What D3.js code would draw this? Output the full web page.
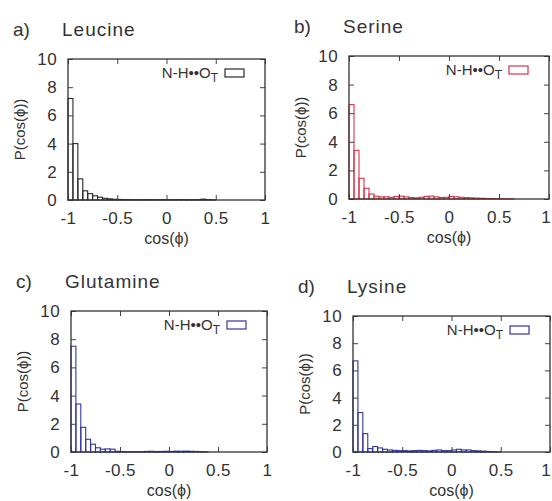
<html>
<head>
<style>
  body { margin: 0; background: #fff; }
  text { font-family: "Liberation Sans", Arial, sans-serif; fill: #333; }
</style>
</head>
<body>
<script src="https://d3js.org/d3.v7.min.js"></script>
<script>

    var binLefts = [-1.00, -0.95, -0.90, -0.85, -0.80, -0.75, -0.70, -0.65, -0.60, -0.55,
                    -0.50, -0.45, -0.40, -0.35, -0.30, -0.25, -0.20, -0.15, -0.10, -0.05,
                     0.00,  0.05,  0.10,  0.15,  0.20,  0.25,  0.30,  0.35,  0.40,  0.45,
                     0.50,  0.55,  0.60];
    var binWidth = 0.05;

    var leucine   = [7.2, 4.0, 1.5, 0.65, 0.45, 0.3, 0.2, 0.12, 0.08, 0.05,
                     0.04, 0.03, 0.03, 0.02, 0.02, 0.02, 0.03, 0.02, 0.02, 0.03,
                     0.02, 0.02, 0.03, 0.02, 0.02, 0.02, 0.03, 0.06, 0.03, 0.01];
    var serine    = [6.6, 3.4, 1.45, 0.75, 0.35, 0.2, 0.15, 0.15, 0.12, 0.18,
                     0.2, 0.15, 0.1, 0.08, 0.12, 0.18, 0.2, 0.15, 0.1, 0.12,
                     0.18, 0.15, 0.12, 0.1, 0.08, 0.06, 0.05, 0.04, 0.03, 0.02,
                     0.02, 0.01, 0.01];
    var glutamine = [7.5, 3.4, 1.75, 0.9, 0.55, 0.3, 0.2, 0.22, 0.2, 0.05,
                     0.03, 0.02, 0.02, 0.02, 0.03, 0.04, 0.05, 0.03, 0.04, 0.05,
                     0.04, 0.06, 0.05, 0.06, 0.05, 0.04, 0.02, 0.01];
    var lysine    = [6.7, 2.9, 1.35, 0.25, 0.4, 0.3, 0.2, 0.15, 0.12, 0.1,
                     0.1, 0.08, 0.1, 0.12, 0.1, 0.08, 0.12, 0.15, 0.1, 0.1,
                     0.15, 0.2, 0.15, 0.15, 0.1, 0.08, 0.06, 0.04, 0.02, 0.01];

    var xTicks = [-1, -0.5, 0, 0.5, 1];
    var yTicks = [0, 2, 4, 6, 8, 10];

    var panels = [
        { tag: "a)", name: "Leucine",   values: leucine,   color: "#2a2a2a", box: [68, 59, 265, 200] },
        { tag: "b)", name: "Serine",    values: serine,    color: "#d8324a", box: [349, 56, 549, 199] },
        { tag: "c)", name: "Glutamine", values: glutamine, color: "#34349c", box: [71, 311, 267, 452] },
        { tag: "d)", name: "Lysine",    values: lysine,    color: "#34349c", box: [353, 316, 550, 452] }
    ];

    var W = 552, H = 501;

    var svg = d3.select("body").append("svg")
        .attr("width", W)
        .attr("height", H);

    panels.forEach(drawPanel);

    function drawPanel(p) {
        var left = p.box[0], top = p.box[1], right = p.box[2], bottom = p.box[3];

        var x = d3.scaleLinear().domain([-1, 1]).range([left, right]);
        var y = d3.scaleLinear().domain([0, 10]).range([bottom, top]);

        var g = svg.append("g");

        // bars (outline only, like gnuplot boxes)
        g.append("g").selectAll("rect")
            .data(p.values)
            .enter().append("rect")
            .attr("x", function(d, i) { return x(binLefts[i]); })
            .attr("y", function(d) { return y(d); })
            .attr("width", function(d, i) { return x(binLefts[i] + binWidth) - x(binLefts[i]); })
            .attr("height", function(d) { return y(0) - y(d); })
            .style("fill", "none")
            .style("stroke", p.color)
            .style("stroke-width", 1.1);

        // axes with inward ticks, mirrored
        var axB = g.append("g")
            .attr("transform", "translate(0," + bottom + ")")
            .call(d3.axisBottom(x).tickValues(xTicks).tickSize(-5).tickPadding(12)
                .tickFormat(function(d) { return String(d); }));
        var axT = g.append("g")
            .attr("transform", "translate(0," + top + ")")
            .call(d3.axisTop(x).tickValues(xTicks).tickSize(-5).tickFormat(""));
        var axL = g.append("g")
            .attr("transform", "translate(" + left + ",0)")
            .call(d3.axisLeft(y).tickValues(yTicks).tickSize(-5).tickPadding(11));
        var axR = g.append("g")
            .attr("transform", "translate(" + right + ",0)")
            .call(d3.axisRight(y).tickValues(yTicks).tickSize(-5).tickFormat(""));

        [axB, axT, axL, axR].forEach(function(a) {
            a.select(".domain").remove();
            a.selectAll("line").style("stroke", "#444");
            a.selectAll("text")
                .attr("fill", "#333")
                .style("font-size", "17px")
                .style("letter-spacing", "0.4px")
                .style("font-family", "'Liberation Sans', Arial, sans-serif");
        });

        // keep the last x label inside the page
        axB.selectAll("text").each(function() {
            var b = this.getBBox();
            var m = this.parentNode.getCTM();
            var r = m.e + b.x + b.width;
            if (r > W - 1) d3.select(this).attr("dx", (W - 1 - r) + "px");
        });

        // frame
        g.append("rect")
            .attr("x", left).attr("y", top)
            .attr("width", right - left).attr("height", bottom - top)
            .style("fill", "none")
            .style("stroke", "#333")
            .style("stroke-width", 1.3);

        // axis titles
        g.append("text")
            .attr("x", (left + right) / 2)
            .attr("y", bottom + 44)
            .attr("text-anchor", "middle")
            .style("font-size", "16px")
            .text("cos(\u03d5)");

        g.append("text")
            .attr("transform", "translate(" + (left - 43) + "," + ((top + bottom) / 2) + ") rotate(-90)")
            .attr("text-anchor", "middle")
            .style("font-size", "15px")
            .text("P(cos(\u03d5))");

        // panel title
        g.append("text")
            .attr("x", left - 55)
            .attr("y", top - 23)
            .style("font-size", "19px")
            .text(p.tag);
        g.append("text")
            .attr("x", left - 6)
            .attr("y", top - 23)
            .style("font-size", "19px")
            .style("letter-spacing", "1px")
            .text(p.name);

        // legend
        var boxR = right - 21;
        g.append("rect")
            .attr("x", boxR - 19).attr("y", top + 10)
            .attr("width", 19).attr("height", 8)
            .style("fill", "none")
            .style("stroke", p.color)
            .style("stroke-width", 1.2);
        var lt = g.append("text")
            .attr("x", boxR - 26)
            .attr("y", top + 19)
            .attr("text-anchor", "end")
            .style("font-size", "15px");
        lt.append("tspan").text("N-H\u2022\u2022O");
        lt.append("tspan").attr("dy", 4).style("font-size", "12px").text("T");
    }

</script>
</body>
</html>
